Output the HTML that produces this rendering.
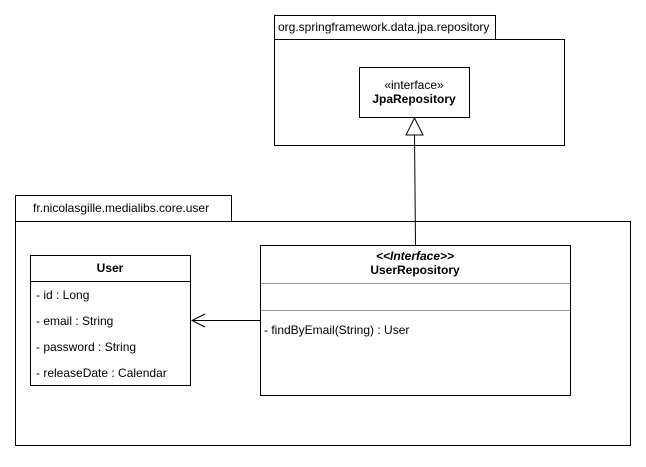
<!DOCTYPE html>
<html><head><style>body{margin:0;background:#fff}</style></head><body>
<svg width="646" height="462" viewBox="0 0 646 462" xmlns="http://www.w3.org/2000/svg" font-family="Liberation Sans, sans-serif" font-size="12">
<rect width="646" height="462" fill="#fff"/>
<rect x="274.5" y="15.5" width="221" height="24" fill="#fff" stroke="#000"/>
<text x="278" y="31">org.springframework.data.jpa.repository</text>
<rect x="274.5" y="39.5" width="290" height="106" fill="#fff" stroke="#000"/>
<rect x="359.5" y="67.5" width="110" height="50" fill="#fff" stroke="#000"/>
<text x="414" y="89" text-anchor="middle">«interface»</text>
<text x="414" y="103" text-anchor="middle" font-weight="bold">JpaRepository</text>
<rect x="15.5" y="195.5" width="216" height="26" fill="#fff" stroke="#000"/>
<text x="33" y="212">fr.nicolasgille.medialibs.core.user</text>
<rect x="15.5" y="221.5" width="615" height="224" fill="#fff" stroke="#000"/>
<line x1="414.5" y1="135" x2="415.5" y2="245" stroke="#000"/>
<polygon points="414.5,118 406,135 423,135" fill="#fff" stroke="#000"/>
<rect x="30.5" y="255.5" width="160" height="130" fill="#fff" stroke="#000"/>
<line x1="30.5" y1="281.5" x2="190.5" y2="281.5" stroke="#000"/>
<text x="110" y="272" text-anchor="middle" font-weight="bold">User</text>
<text x="36" y="299">- id : Long</text>
<text x="36" y="325">- email : String</text>
<text x="36" y="351">- password : String</text>
<text x="36" y="377">- releaseDate : Calendar</text>
<rect x="260.5" y="245.5" width="310" height="150" fill="#fff" stroke="#000"/>
<line x1="261" y1="283.5" x2="570" y2="283.5" stroke="#999"/>
<line x1="261" y1="310.5" x2="570" y2="310.5" stroke="#999"/>
<text x="415" y="260" text-anchor="middle" font-style="italic" font-weight="bold">&lt;&lt;Interface&gt;&gt;</text>
<text x="415" y="274" text-anchor="middle" font-weight="bold">UserRepository</text>
<text x="264" y="334">- findByEmail(String) : User</text>
<line x1="260" y1="320.5" x2="192" y2="320.5" stroke="#000"/>
<polyline points="205,314 192,320.5 205,327" fill="none" stroke="#000"/>
</svg>
</body></html>
